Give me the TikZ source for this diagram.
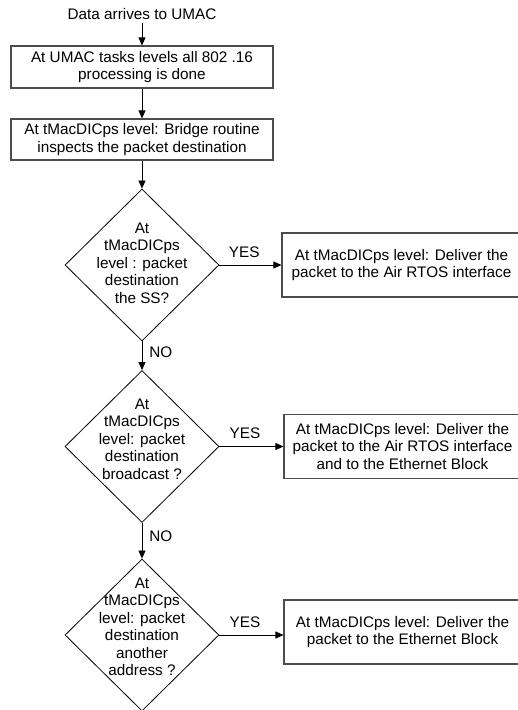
\documentclass[tikz,border=0pt]{standalone}
\usepackage{fontspec}
\setmainfont{Liberation Sans}
\usepackage{tikz}
\usetikzlibrary{arrows.meta}
\usetikzlibrary{shapes.geometric}

\begin{document}
\begin{tikzpicture}[x=1pt,y=1pt,
  every node/.style={font=\fontsize{15.3}{17.5}\selectfont},
  procbox/.style={draw=black!70, line width=1.1pt, rectangle, align=center, inner sep=0pt},
  decision/.style={draw, line width=0.8pt, diamond, inner sep=0pt,
    minimum width=154pt, minimum height=152pt},
  dtext/.style={align=center, inner sep=0pt},
  flow/.style={line width=0.8pt, -{Triangle[length=8pt,width=7pt]}},
  yeslabel/.style={pos=0.4, above=7pt, inner sep=0pt},
  nolabel/.style={pos=0.37, right=7pt, inner sep=0pt}]

\useasboundingbox (0,0) rectangle (518,710);

% start
\node (start) at (142,696) {Data arrives to UMAC};

% process boxes
\node[procbox, minimum width=262pt, minimum height=42pt] (umac) at (142,643)
  {At UMAC tasks levels all 802 .16\\processing is done};
\node[procbox, minimum width=262pt, minimum height=41pt] (bridge) at (142,570.5)
  {At tMacDICps level: Bridge routine\\inspects the packet destination};

% decisions
\node[decision] (ss) at (142,445) {};
\node[dtext] (sstxt) at (142,447)
  {At\\tMacDICps\\level : packet\\destination\\the SS?};

\node[decision] (bcast) at (142,263.5) {};
\node[dtext] (bcasttxt) at (142,271)
  {At\\tMacDICps\\level: packet\\destination\\broadcast ?};

\node[decision] (other) at (142,75) {};
\node[dtext] (othertxt) at (142,83)
  {At\\tMacDICps\\level: packet\\destination\\another\\address ?};

% outcomes
\node[procbox, minimum width=239pt, minimum height=64pt] (air) at (401.5,445)
  {At tMacDICps level: Deliver the\\packet to the Air RTOS interface};
\node[procbox, minimum width=237pt, minimum height=64pt] (aireth) at (402.5,263.5)
  {At tMacDICps level: Deliver the\\packet to the Air RTOS interface\\and to the Ethernet Block};
\node[procbox, minimum width=237pt, minimum height=64pt] (eth) at (402.5,78)
  {At tMacDICps level: Deliver the\\packet to the Ethernet Block};

% connectors
\draw[flow] (start) -- (umac);
\draw[flow] (umac) -- (bridge);
\draw[flow] (bridge) -- (ss);
\draw[flow] (ss) -- node[yeslabel] (yes1) {YES} (air);
\draw[flow] (ss) -- node[nolabel] (no1) {NO} (bcast);
\draw[flow] (bcast) -- node[yeslabel] (yes2) {YES} (aireth);
\draw[flow] (bcast) -- node[nolabel] (no2) {NO} (other);
\draw[flow] (other.east) -- node[yeslabel] (yes3) {YES} (other.east -| eth.west);

\end{tikzpicture}
\end{document}
